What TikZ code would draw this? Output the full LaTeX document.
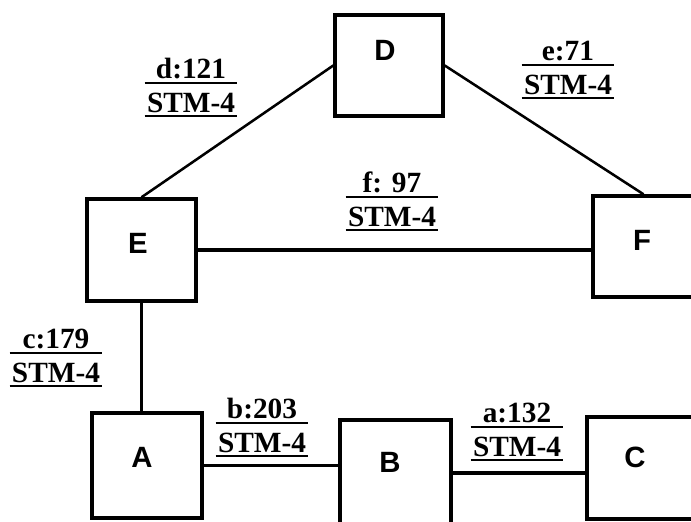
\documentclass[tikz,border=0pt]{standalone}
\usepackage{fontspec}
\setmainfont{Liberation Serif}
\newfontfamily\boxfont{Liberation Sans}
\usetikzlibrary{fit}
\newcommand\linklab[4]{%
  \node[lbl, anchor=base] (#1s) at (#2,#3) {STM-4};
  \node[lbl, anchor=base] (#1t) at (#2,#3-34) {#4};
  \coordinate (#1y1) at (0,#3-29);
  \coordinate (#1y2) at (0,#3+4);
  \draw[rulel] ([xshift=-1.5pt]#1s.west |- #1y1) -- ([xshift=1.5pt]#1s.east |- #1y1);
  \draw[rulel] ([xshift=-1.5pt]#1s.west |- #1y2) -- ([xshift=1.5pt]#1s.east |- #1y2);
}
\begin{document}
\begin{tikzpicture}[x=0.75pt,y=-0.75pt,
  box/.style={draw, line width=2.6pt, inner sep=0pt},
  wire/.style={line width=2.3pt},
  rulel/.style={line width=1.5pt},
  lbl/.style={font=\fontsize{22}{26}\selectfont\bfseries, inner sep=0pt},
  boxlbl/.style={font=\boxfont\bfseries\fontsize{22}{26}\selectfont, inner sep=0pt}]
\useasboundingbox (0,0) rectangle (691,521);
\clip (0,0) rectangle (691,521);
\fill[white] (0,0) rectangle (691,521);
% boxes
\node[box, fit={(335,15) (443,116)}] (D) {};
\node[box, fit={(87,199) (196,301)}] (E) {};
\node[box, fit={(593,196) (694,297)}] (F) {};
\node[box, fit={(92,413) (202,518)}] (A) {};
\node[box, fit={(340,420) (451,526)}] (B) {};
\node[box, fit={(587,417) (700,519)}] (C) {};
% box letters
\node[boxlbl] (Dl) at (385,50) {D};
\node[boxlbl] (El) at (138,243) {E};
\node[boxlbl] (Fl) at (642,240) {F};
\node[boxlbl] (Al) at (142,457) {A};
\node[boxlbl] (Bl) at (390,462) {B};
\node[boxlbl] (Cl) at (635,457) {C};
% connectors
\draw[wire, line width=1.9pt] (D.west) -- (E.north);
\draw[wire, line width=1.9pt] (D.east) -- (F.north);
\draw[wire] (E.east) -- (E.east -| F.west);
\draw[wire] (E.south) -- (E.south |- A.north);
\draw[wire] (A.east) -- (A.east -| B.west);
\draw[wire] (B.east) -- (B.east -| C.west);
% link labels
\linklab{d}{191}{112}{d:121}
\linklab{e}{568}{94}{e:71}
\linklab{f}{392}{226}{f: 97}
\linklab{c}{56}{382}{c:179}
\linklab{b}{262}{452}{b:203}
\linklab{a}{517}{456}{a:132}
\end{tikzpicture}
\end{document}
